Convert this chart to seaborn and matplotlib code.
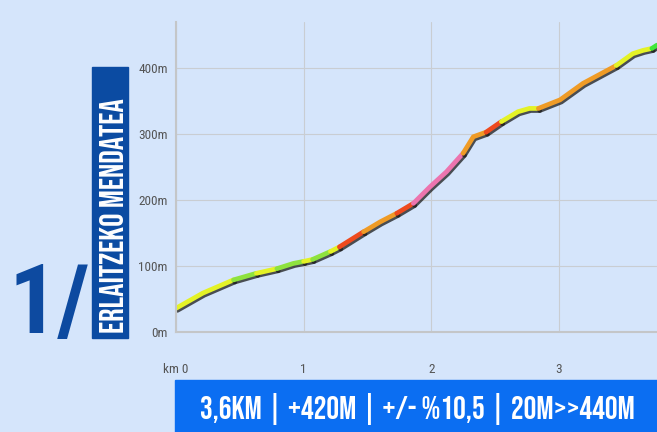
import pandas as pd
import matplotlib
matplotlib.use("Agg")
import matplotlib.pyplot as plt
import matplotlib.patheffects as pe
from matplotlib.patches import Rectangle
import seaborn as sns

# profile values
km = [0.0, 0.21, 0.45, 0.63, 0.79, 0.92, 1.0, 1.07, 1.21, 1.28, 1.47, 1.6, 1.73, 1.86, 1.99,
      2.12, 2.25, 2.33, 2.43, 2.55, 2.68, 2.77, 2.84, 3.01, 3.19, 3.45, 3.58, 3.66, 3.73, 3.77]
elev = [36, 59, 79, 89, 96, 104, 107, 110, 122, 129, 152, 167, 180, 195, 220,
        243, 271, 296, 303, 319, 334, 339, 339, 352, 377, 404, 422, 427, 430, 435]

# gradient colour bands along the route
seg_edges = [0.0, 0.45, 0.63, 0.79, 1.0, 1.07, 1.21, 1.28, 1.47, 1.73, 1.86, 2.25, 2.43, 2.55, 2.84, 3.45, 3.73, 3.77]
seg_colors = ["#e4f226", "#8ee23e", "#e4f226", "#8ee23e", "#e4f226", "#8ee23e", "#e4f226",
              "#ee4a1e", "#ef9b26", "#ee4a1e", "#ec74ae", "#ef9b26", "#ee4a1e", "#e4f226",
              "#ef9b26", "#e4f226", "#3fe83a"]

y_ticks = [0, 100, 200, 300, 400]
y_labels = ["0m", "100m", "200m", "300m", "400m"]
x_ticks = [0, 1, 2, 3]
x_labels = ["km 0", "1", "2", "3"]

title_num = "1/"
title_name = "ERLAITZEKO MENDATEA"
summary = "3,6KM | +420M | +/- %10,5 | 20M>>440M"

bg = "#d5e5fb"
sns.set_theme(style="white")
plt.rcParams['font.family'] = ['Roboto Condensed', 'DejaVu Sans']

rows = []
for i, col in enumerate(seg_colors):
    lo, hi = seg_edges[i], seg_edges[i + 1]
    for k, e in zip(km, elev):
        if lo <= k <= hi:
            rows.append({"km": k, "elev": e, "seg": i})
df = pd.DataFrame(rows)

fig = plt.figure(figsize=(6.57, 4.32), dpi=100, facecolor=bg)
ax = fig.add_axes([0.268, 0.2315, 0.732, 0.7175], facecolor=bg)

sns.lineplot(data=df, x="km", y="elev", hue="seg", units="seg", estimator=None, sort=False,
             palette=dict(enumerate(seg_colors)), legend=False, linewidth=3.4, ax=ax)
for ln in ax.lines:
    ln.set_solid_capstyle("round")
    ln.set_path_effects([pe.SimpleLineShadow(offset=(1.0, -1.5), shadow_color="#1a1a1a", alpha=0.75),
                         pe.Normal()])

ax.set_xlim(0, 3.77)
ax.set_ylim(0, 470)
ax.set_xticks(x_ticks)
ax.set_xticklabels(x_labels)
ax.set_yticks(y_ticks)
ax.set_yticklabels(y_labels)
ax.set_xlabel("")
ax.set_ylabel("")
ax.grid(True, color="#c9cdd2", linewidth=0.8)
ax.tick_params(axis="x", length=0, pad=22, labelsize=9.5, labelcolor="#555555")
ax.tick_params(axis="y", length=0, pad=6, labelsize=9.5, labelcolor="#555555")
for s in ["top", "right"]:
    ax.spines[s].set_visible(False)
for s in ["left", "bottom"]:
    ax.spines[s].set_color("#c4c6c8")
    ax.spines[s].set_linewidth(1.5)

# big stage number
fig.text(8 / 657, 1 - 333 / 432, title_num, fontsize=70, fontweight="bold", fontstyle="normal",
         color="#0d4aa0", family=["Roboto Condensed", "DejaVu Sans"], ha="left", va="baseline")

# vertical name box
fig.patches.append(Rectangle((92 / 657, 1 - 338 / 432), 36 / 657, 271 / 432,
                             transform=fig.transFigure, color="#0b4ba2", zorder=1))
fig.text(112 / 657, 1 - 216 / 432, title_name, rotation=90, fontsize=24,
         color="white", ha="center", va="center", family=["Bebas Neue", "DejaVu Sans"], zorder=2)

# summary box
fig.patches.append(Rectangle((175 / 657, 0), 482 / 657, 52 / 432,
                             transform=fig.transFigure, color="#0b6ef2", zorder=1))
fig.text(417 / 657, 1 - 409 / 432, summary, fontsize=23,
         color="white", ha="center", va="center", family=["Bebas Neue", "DejaVu Sans"], zorder=2)

fig.savefig("out.png", dpi=100, facecolor=bg)
